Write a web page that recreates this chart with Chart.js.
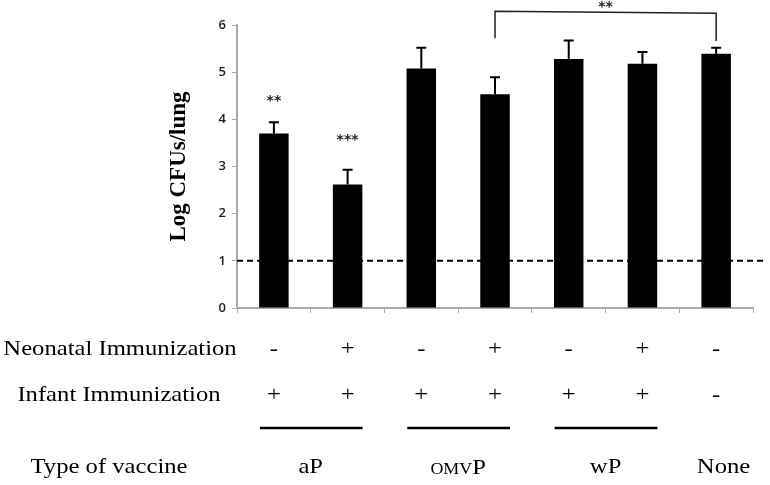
<!DOCTYPE html>
<html>
<head>
<meta charset="utf-8">
<script src="https://cdn.jsdelivr.net/npm/chart.js@4.4.1/dist/chart.umd.min.js"></script>
<style>
  html, body { margin: 0; padding: 0; background: #fff; }
  #wrap { width: 770px; height: 485px; }
</style>
</head>
<body>
<div id="wrap"><canvas id="myChart"></canvas></div>
<script>
// data
const groups = ['aP -/+', 'aP +/+', 'OMVP -/+', 'OMVP +/+', 'wP -/+', 'wP +/+', 'None'];
const cfu = [3.70, 2.62, 5.08, 4.53, 5.28, 5.18, 5.39];
const cfuErr = [0.24, 0.31, 0.44, 0.36, 0.39, 0.25, 0.13];
const neonatal = ['-', '+', '-', '+', '-', '+', '-'];
const infant = ['+', '+', '+', '+', '+', '+', '-'];
const vaccineTypes = ['aP', 'OMVP', 'wP', 'None'];
const vaccineAt = [0.5, 2.5, 4.5, 6.1];
const vaccineLines = [[0, 1], [2, 3], [4, 5]];
const starText = ['**', '***'];
const starAt = [0, 1];
const starValue = [4.45, 3.62];
const bracketFrom = 3, bracketTo = 6;
const detectionLimit = 1;

const serif = '"Liberation Serif", "Times New Roman", serif';

function wideText(ctx, text, cx, cy, size, sx) {
  ctx.save();
  ctx.font = size + 'px ' + serif;
  ctx.textAlign = 'center';
  ctx.textBaseline = 'middle';
  ctx.translate(cx, cy);
  ctx.scale(sx, 1);
  ctx.fillText(text, 0, 0);
  ctx.restore();
}

function starsAt(ctx, text, cx, cy) {
  ctx.save();
  ctx.font = 'bold 14px "DejaVu Sans", sans-serif';
  ctx.fillStyle = '#222';
  ctx.textAlign = 'center';
  ctx.textBaseline = 'alphabetic';
  const m = ctx.measureText(text);
  const mid = (m.actualBoundingBoxAscent - m.actualBoundingBoxDescent) / 2;
  ctx.fillText(text, cx, cy + mid);
  ctx.restore();
}

const extras = {
  id: 'extras',
  afterDatasetsDraw(chart) {
    const ctx = chart.ctx;
    const x = chart.scales.x, y = chart.scales.y;
    const area = chart.chartArea;
    ctx.save();
    ctx.fillStyle = '#000';
    ctx.strokeStyle = '#000';

    // error bars (upper only)
    ctx.lineWidth = 2;
    cfu.forEach((v, i) => {
      const px = x.getPixelForValue(i);
      const top = y.getPixelForValue(v + cfuErr[i]);
      ctx.beginPath();
      ctx.moveTo(px, y.getPixelForValue(v));
      ctx.lineTo(px, top);
      ctx.moveTo(px - 5, top);
      ctx.lineTo(px + 5, top);
      ctx.stroke();
    });

    // detection limit
    ctx.setLineDash([6, 4]);
    ctx.lineWidth = 2;
    ctx.beginPath();
    const ly = y.getPixelForValue(detectionLimit);
    ctx.moveTo(area.left, ly);
    ctx.lineTo(area.right + 14, ly);
    ctx.stroke();
    ctx.setLineDash([]);

    // significance stars
    starText.forEach((t, k) => {
      starsAt(ctx, t, x.getPixelForValue(starAt[k]), y.getPixelForValue(starValue[k]));
    });

    // bracket
    const bx1 = x.getPixelForValue(bracketFrom), bx2 = x.getPixelForValue(bracketTo);
    const by = y.getPixelForValue(6.29);
    ctx.lineWidth = 1.5;
    ctx.strokeStyle = '#222';
    ctx.beginPath();
    ctx.moveTo(bx1, y.getPixelForValue(5.72));
    ctx.lineTo(bx1, by);
    ctx.lineTo(bx2, by + 2);
    ctx.lineTo(bx2, y.getPixelForValue(5.66));
    ctx.stroke();
    starsAt(ctx, '**', (bx1 + bx2) / 2, by - 7);

    // table under the axis
    ctx.fillStyle = '#000';
    wideText(ctx, 'Neonatal Immunization', 120, 349, 22, 1.12);
    wideText(ctx, 'Infant Immunization', 119, 395, 22, 1.12);
    wideText(ctx, 'Type of vaccine', 109, 467, 22, 1.12);
    groups.forEach((g, i) => {
      const px = x.getPixelForValue(i);
      wideText(ctx, neonatal[i], px, 349, 22, 1.12);
      wideText(ctx, infant[i], px, 395, 22, 1.12);
    });

    ctx.lineWidth = 2.5;
    ctx.strokeStyle = '#000';
    vaccineLines.forEach(([a, b]) => {
      ctx.beginPath();
      ctx.moveTo(x.getPixelForValue(a) - 14, 428);
      ctx.lineTo(x.getPixelForValue(b) + 15, 428);
      ctx.stroke();
    });

    vaccineTypes.forEach((t, k) => {
      const px = x.getPixelForValue(0) + vaccineAt[k] * (x.getPixelForValue(1) - x.getPixelForValue(0));
      if (t === 'OMVP') {
        // small caps OMV + P
        ctx.save();
        ctx.textBaseline = 'alphabetic';
        ctx.textAlign = 'left';
        ctx.font = '16px ' + serif;
        const w1 = ctx.measureText('OMV').width * 1.12;
        ctx.font = '22px ' + serif;
        const w2 = ctx.measureText('P').width * 1.12;
        const start = px - (w1 + w2) / 2;
        ctx.translate(start, 474);
        ctx.scale(1.12, 1);
        ctx.font = '16px ' + serif;
        ctx.fillText('OMV', 0, 0);
        ctx.font = '22px ' + serif;
        ctx.fillText('P', w1 / 1.12, 0);
        ctx.restore();
      } else {
        wideText(ctx, t, px, 467, 22, 1.12);
      }
    });

    ctx.restore();
  }
};

const ctx = document.getElementById('myChart');

new Chart(ctx, {
  type: 'bar',
  data: {
    labels: groups,
    datasets: [{
      data: cfu,
      backgroundColor: '#000',
      borderWidth: 0,
      barPercentage: 0.4,
      categoryPercentage: 1
    }]
  },
  options: {
    responsive: true,
    maintainAspectRatio: false,
    animation: false,
    events: [],
    layout: { padding: { left: 155, right: 17, top: 25, bottom: 172 } },
    plugins: {
      legend: { display: false },
      tooltip: { enabled: false }
    },
    scales: {
      x: {
        grid: { drawOnChartArea: false, tickLength: 5, color: '#aaa', offset: true },
        border: { color: '#aaa', width: 2 },
        ticks: { display: false }
      },
      y: {
        min: 0,
        max: 6,
        grid: { drawOnChartArea: false, tickLength: 5, color: '#aaa' },
        border: { color: '#aaa', width: 2 },
        ticks: {
          stepSize: 1,
          padding: 6,
          color: '#222',
          font: { family: '"Open Sans", sans-serif', size: 13, weight: '600' }
        },
        title: {
          display: true,
          text: 'Log CFUs/lung',
          color: '#000',
          padding: { top: 10, bottom: 20 },
          font: { family: serif, size: 23, weight: 'bold' }
        }
      }
    }
  },
  plugins: [extras]
});
</script>
</body>
</html>
